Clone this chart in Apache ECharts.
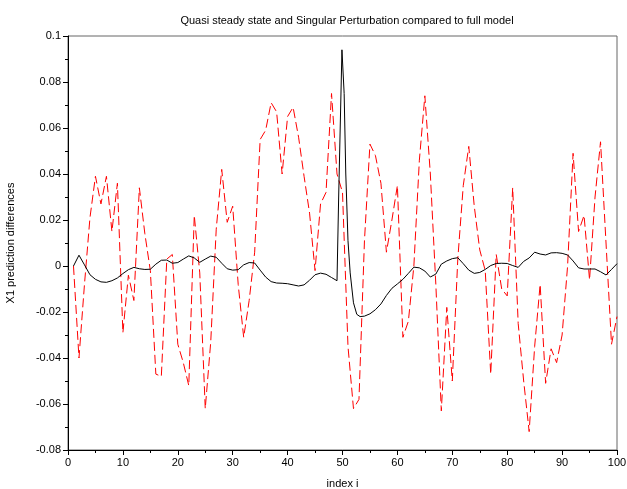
<!DOCTYPE html>
<html>
<head>
<meta charset="utf-8">
<script src="https://cdn.jsdelivr.net/npm/echarts@6/dist/echarts.min.js"></script>
<style>
  html, body { margin: 0; padding: 0; background: #fff; }
  #chart { width: 627px; height: 489px; }
</style>
</head>
<body>
<div id="chart"></div>
<script>
// red dashed curve, one value per index i = 1..100
var redValues = [
  0, -0.040, -0.008, 0.021, 0.039, 0.027, 0.039, 0.015, 0.036, -0.029,
  -0.004, -0.015, 0.034, 0.014, -0.002, -0.047, -0.048, 0.003, 0.005, -0.034,
  -0.042, -0.052, 0.022, -0.003, -0.062, -0.033, 0.016, 0.042, 0.019, 0.026,
  -0.008, -0.031, -0.015, 0.006, 0.055, 0.059, 0.071, 0.067, 0.040, 0.065,
  0.069, 0.056, 0.039, 0.023, -0.002, 0.027, 0.032, 0.075, 0.040, 0.032,
  -0.035, -0.062, -0.058, 0.011, 0.053, 0.048, 0.036, 0.006, 0.020, 0.035,
  -0.031, -0.024, 0.000, 0.046, 0.074, 0.040, -0.008, -0.063, -0.018, -0.050,
  0.003, 0.035, 0.052, 0.026, 0.007, -0.002, -0.047, 0.005, -0.010, -0.013,
  0.034, -0.025, -0.050, -0.072, -0.035, -0.008, -0.051, -0.036, -0.042, -0.030,
  0.000, 0.049, 0.015, 0.022, -0.006, 0.030, 0.054, 0.010, -0.034, -0.022
];

// black solid curve (finer around the spike at i = 50)
var blackX = [
  1, 2, 3, 4, 5, 6, 7, 8, 9, 10, 11, 12, 13, 14, 15, 16, 17, 18, 19, 20,
  21, 22, 23, 24, 25, 26, 27, 28, 29, 30, 31, 32, 33, 34, 35, 36, 37, 38, 39, 40,
  41, 42, 43, 44, 45, 46, 47, 48, 49, 49.2, 49.3, 49.9, 50.3, 50.6, 51, 51.4, 52, 52.6, 53.2,
  54, 55, 56, 57, 58, 59, 60, 61, 62, 63, 64, 65, 66, 67, 68, 69, 70,
  71, 72, 73, 74, 75, 76, 77, 78, 79, 80, 81, 82, 83, 84, 85, 86, 87, 88, 89, 90,
  91, 92, 93, 94, 95, 96, 97, 98, 99, 100
];
var blackY = [
  0, 0.0047, 0.0005, -0.0038, -0.0058, -0.0069, -0.0071, -0.0064, -0.0052, -0.0033,
  -0.0016, -0.0006, -0.0012, -0.0015, -0.0014, 0.0008, 0.0025, 0.0026, 0.0012, 0.0015,
  0.0030, 0.0044, 0.0035, 0.0016, 0.0030, 0.0043, 0.0038, 0.0012, -0.0012, -0.0018,
  -0.0016, 0.0005, 0.0015, 0.0013, -0.0018, -0.0048, -0.0068, -0.0074, -0.0075, -0.0077,
  -0.0082, -0.0087, -0.0082, -0.0062, -0.0038, -0.0031, -0.0036, -0.0050, -0.0064,
  -0.0062, 0.030, 0.094, 0.075, 0.040, 0.011, -0.003, -0.016, -0.021, -0.022,
  -0.0218, -0.0208, -0.0190, -0.0165, -0.0128, -0.0097, -0.0078, -0.0058, -0.0032, -0.0005,
  -0.0008, -0.0022, -0.0048, -0.0035, 0.0008, 0.0022, 0.0032,
  0.0036, 0.0010, -0.0018, -0.0032, -0.0028, -0.0015, 0.0002, 0.0011, 0.0012, 0.0011,
  0.0002, -0.0006, 0.0020, 0.0035, 0.0060, 0.0052, 0.0048, 0.0057, 0.0058, 0.0055,
  0.0048, 0.0022, -0.0008, -0.0013, -0.0013, -0.0013, -0.0025, -0.0039, -0.0015, 0.0010
];

var redData = redValues.map(function (v, k) { return [k + 1, v]; });
var blackData = blackX.map(function (x, k) { return [x, blackY[k]]; });

var font = "'Liberation Sans', Arial, sans-serif";
var chart = echarts.init(document.getElementById("chart"));

var option = {
  animation: false,
  backgroundColor: "#fff",
  title: {
    text: "Quasi steady state and Singular Perturbation compared to full model",
    left: 342,
    top: 10,
    textAlign: "center",
    textStyle: { fontFamily: font, fontSize: 11, fontWeight: "normal", color: "#000" }
  },
  grid: {
    left: 68, right: 10, top: 36, bottom: 39,
    outerBoundsMode: "none",
    containLabel: false,
    show: true, borderColor: "#666", borderWidth: 1, backgroundColor: "#fff"
  },
  xAxis: {
    type: "value",
    min: 0, max: 100, interval: 10,
    name: "index i",
    nameLocation: "middle",
    nameGap: 28,
    nameTextStyle: { fontFamily: font, fontSize: 11, color: "#000" },
    axisLine: { onZero: false, lineStyle: { color: "#000", width: 1 } },
    axisTick: { length: 5, lineStyle: { color: "#000" } },
    minorTick: { show: true, splitNumber: 2, length: 3, lineStyle: { color: "#000" } },
    axisLabel: { fontFamily: font, fontSize: 11, color: "#000", margin: 7 },
    splitLine: { show: false }
  },
  yAxis: {
    type: "value",
    min: -0.08, max: 0.1, interval: 0.02,
    name: "X1 prediction differences",
    nameLocation: "middle",
    nameGap: 52,
    nameTextStyle: { fontFamily: font, fontSize: 11, color: "#000" },
    axisLine: { onZero: false, lineStyle: { color: "#000", width: 1 } },
    axisTick: { length: 5, lineStyle: { color: "#000" } },
    minorTick: { show: true, splitNumber: 2, length: 3, lineStyle: { color: "#000" } },
    axisLabel: {
      fontFamily: font, fontSize: 11, color: "#000", margin: 7,
      formatter: function (v) { return String(parseFloat(v.toFixed(2))); }
    },
    splitLine: { show: false }
  },
  series: [
    {
      type: "line",
      data: redData,
      showSymbol: false,
      lineStyle: { color: "#ff0000", width: 1, type: [9, 4] },
      z: 2
    },
    {
      type: "line",
      data: blackData,
      showSymbol: false,
      lineStyle: { color: "#000", width: 1 },
      z: 3
    }
  ]
};
chart.setOption(option);
</script>
</body>
</html>
